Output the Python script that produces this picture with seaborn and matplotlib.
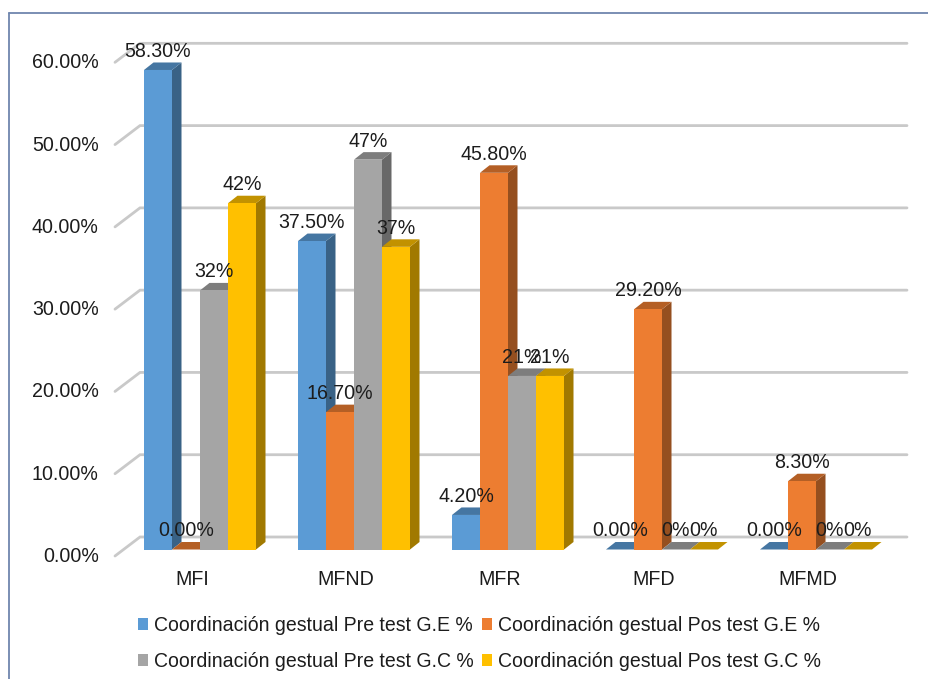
import pandas as pd
import matplotlib
matplotlib.use("Agg")
import matplotlib.pyplot as plt
from matplotlib.lines import Line2D
from matplotlib.patches import Polygon
from matplotlib.transforms import ScaledTranslation
import matplotlib.colors as mcolors
import seaborn as sns

# Values
categorias = ["MFI", "MFND", "MFR", "MFD", "MFMD"]
series = [
    "Coordinación gestual Pre test G.E %",
    "Coordinación gestual Pos test G.E %",
    "Coordinación gestual Pre test G.C %",
    "Coordinación gestual Pos test G.C %",
]
pre_ge = [58.3, 37.5, 4.2, 0, 0]
pos_ge = [0, 16.7, 45.8, 29.2, 8.3]
pre_gc = [31.5, 47.4, 21.1, 0, 0]
pos_gc = [42.1, 36.8, 21.1, 0, 0]
colores = ["#5B9BD5", "#ED7D31", "#A5A5A5", "#FFC000"]
formatos = ["{:.2f}%", "{:.2f}%", "{:.0f}%", "{:.0f}%"]
ticks_y = [0, 10, 20, 30, 40, 50, 60]

df = pd.DataFrame({
    "categoria": categorias * 4,
    "serie": [s for s in series for _ in categorias],
    "valor": pre_ge + pos_ge + pre_gc + pos_gc,
})

sns.set_theme(style="white")
plt.rcParams["font.family"] = ["Liberation Sans", "DejaVu Sans"]
plt.rcParams["text.color"] = "#1c1c1c"
FS = 14.15

# Pixel layout of the 3D look
W, H = 929, 679
px_x = 154.0       # px per category
px_y = 8.225       # px per percent
x0_px = 200.0      # px of first category centre
y0_px = 549.5      # px of value 0 on the bar front
izq, der, arriba, abajo = 115, 907, 30, 556

fig = plt.figure(figsize=(W / 100, H / 100), dpi=100, facecolor="white")
ax = fig.add_axes([izq / W, (H - abajo) / H, (der - izq) / W, (abajo - arriba) / H])

sns.barplot(data=df, x="categoria", y="valor", hue="serie", hue_order=series,
            palette=colores, saturation=1, width=112 / px_x, gap=0, ax=ax,
            zorder=3, linewidth=0)

prof_x, prof_y = 9.5 / px_x, 7.5 / px_y   # bar depth in data units
pared_x, pared_y = 25 / px_x, 19 / px_y   # wall depth in data units
piso = (abajo - y0_px) / px_y


def oscurecer(color, f):
    r, g, b = mcolors.to_rgb(color)
    return (r * f, g * f, b * f)


# Side and top faces, built from the bars seaborn drew
barras = []
for cont, color, fmt in zip(ax.containers, colores, formatos):
    for b in cont:
        barras.append((b, color, fmt))
barras.sort(key=lambda t: t[0].get_x())
for i, (b, color, fmt) in enumerate(barras):
    x1 = b.get_x()
    x2 = x1 + b.get_width()
    h = b.get_height()
    ax.add_patch(Polygon([(x2, 0), (x2 + prof_x, prof_y), (x2 + prof_x, h + prof_y), (x2, h)],
                         closed=True, fc=oscurecer(color, 0.63), ec="none", zorder=2.5 + i * 0.001))
    ax.add_patch(Polygon([(x1, h), (x1 + prof_x, h + prof_y), (x2 + prof_x, h + prof_y), (x2, h)],
                         closed=True, fc=oscurecer(color, 0.76), ec="none", zorder=2.5 + i * 0.001))
    ax.annotate(fmt.format(h), xy=((x1 + x2) / 2, h), xytext=(0, 18.5 * 0.72),
                textcoords="offset points", ha="center", va="center",
                fontsize=FS, zorder=5)

# Back wall grid with slanted ticks to the front
xmin, xmax = (izq - x0_px) / px_x, (der - x0_px) / px_x
for v in ticks_y:
    frente = v * 8.228 / px_y - piso
    ax.plot([xmin, xmin + pared_x, xmax], [frente, frente + pared_y, frente + pared_y],
            color="#c9c9c9", lw=2, zorder=1, clip_on=False, solid_joinstyle="miter")

ax.set_xlim(xmin, xmax)
ax.set_ylim(-piso, (y0_px - arriba) / px_y)
ax.set_yticks([v * 8.228 / px_y - piso for v in ticks_y])
ax.set_yticklabels([f"{v:.2f}%" for v in ticks_y], fontsize=FS)
ax.tick_params(axis="y", length=0, pad=11.7, colors="#1c1c1c")
ax.tick_params(axis="x", length=0, pad=10.3, labelsize=FS, colors="#1c1c1c")
# category labels sit a little left of the bar groups, value labels a little higher
corrimiento = ScaledTranslation(-8 / 100, 0, fig.dpi_scale_trans)
for t in ax.get_xticklabels():
    t.set_transform(t.get_transform() + corrimiento)
subida = ScaledTranslation(0, 1.5 / 100, fig.dpi_scale_trans)
for t in ax.get_yticklabels():
    t.set_transform(t.get_transform() + subida)
ax.set_xlabel("")
ax.set_ylabel("")
sns.despine(ax=ax, left=True, bottom=True)

# Legend, filled row by row in the reference
hs, ls = ax.get_legend_handles_labels()
orden = [0, 2, 1, 3]
ax.legend([hs[i] for i in orden], [ls[i] for i in orden], ncol=2, frameon=False,
          loc="upper left", bbox_to_anchor=(138 / W, 1 - 616 / H),
          bbox_transform=fig.transFigure, fontsize=14.05, borderpad=0, borderaxespad=0,
          handlelength=0.53, handleheight=0.53, handletextpad=0.28,
          columnspacing=0.42, labelspacing=0.87)

# Chart frame, only left and top show in the crop
color_marco = "#6F86AE"
fig.add_artist(Line2D([9 / W, 9 / W], [0, 1 - 13 / H], color=color_marco, lw=1.3))
fig.add_artist(Line2D([9 / W, 1], [1 - 13 / H, 1 - 13 / H], color=color_marco, lw=1.3))

fig.savefig("out.png", dpi=100)
